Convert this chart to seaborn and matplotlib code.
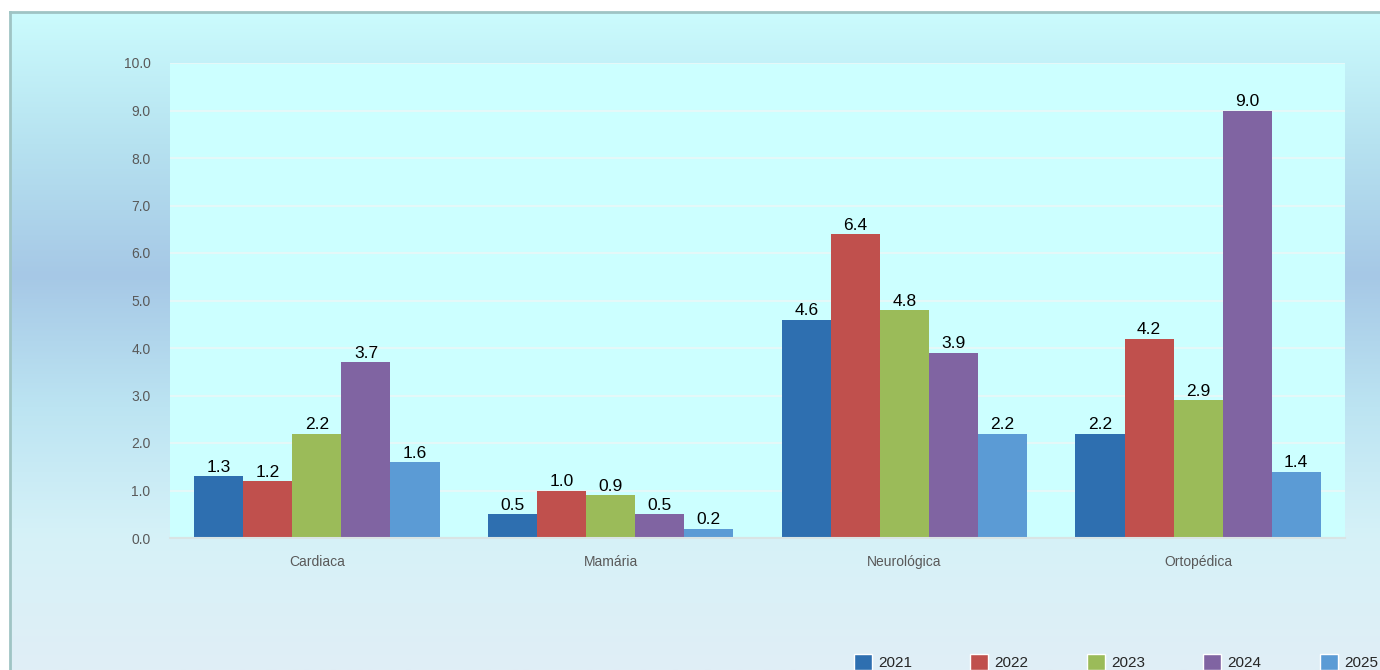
import numpy as np
import pandas as pd
import matplotlib
matplotlib.use("Agg")
import matplotlib.pyplot as plt
import seaborn as sns
from matplotlib.colors import LinearSegmentedColormap
from matplotlib.patches import Patch

# data
categories = ["Cardiaca", "Mamária", "Neurológica", "Ortopédica"]
years = ["2021", "2022", "2023", "2024", "2025"]
v2021 = [1.3, 0.5, 4.6, 2.2]
v2022 = [1.2, 1.0, 6.4, 4.2]
v2023 = [2.2, 0.9, 4.8, 2.9]
v2024 = [3.7, 0.5, 3.9, 9.0]
v2025 = [1.6, 0.2, 2.2, 1.4]
colors = ["#2E6FB0", "#C0504D", "#9BBB59", "#8064A2", "#5B9BD5"]

rows = []
for yr, vals in zip(years, [v2021, v2022, v2023, v2024, v2025]):
    for cat, v in zip(categories, vals):
        rows.append({"cat": cat, "year": yr, "val": v})
df = pd.DataFrame(rows)

sns.set_style("white")
plt.rcParams['font.family'] = ['Liberation Sans', 'DejaVu Sans']

fig = plt.figure(figsize=(13.8, 6.7), dpi=100)
fig.patch.set_facecolor("white")

# gradient background panel
bg = fig.add_axes([10 / 1380, 0, 1 - 10 / 1380, 1 - 12 / 670], zorder=-1)
cmap = LinearSegmentedColormap.from_list(
    "bg", ["#CBFBFD", "#B6E2F0", "#A6C8E6", "#BCE4F2", "#D6F2F8", "#E0EEF6"])
grad = np.linspace(0, 1, 256).reshape(-1, 1)
bg.imshow(grad, aspect="auto", cmap=cmap, extent=[0, 1, 0, 1])
bg.set_xticks([])
bg.set_yticks([])
for s in ["top", "left"]:
    bg.spines[s].set_color("#9FC4C4")
    bg.spines[s].set_linewidth(2)
for s in ["right", "bottom"]:
    bg.spines[s].set_visible(False)

ax = fig.add_axes([170 / 1380, 1 - 538 / 670, 1175 / 1380, 475 / 670])
ax.set_facecolor("#CCFFFF")
sns.barplot(data=df, x="cat", y="val", hue="year", palette=colors,
            width=0.835, ax=ax, legend=False, saturation=1,
            edgecolor="none", linewidth=0)

for cont in ax.containers:
    ax.bar_label(cont, fmt="%.1f", fontsize=12.5, color="black", padding=1)

ax.set_ylim(0, 10)
ax.set_yticks(np.arange(0, 10.5, 1))
ax.set_yticklabels([f"{t:.1f}" for t in np.arange(0, 10.5, 1)], color="#595959", fontsize=10)
ax.tick_params(axis="y", length=0, pad=14)
ax.tick_params(axis="x", length=0, pad=12, labelsize=10, labelcolor="#595959")
ax.set_xlabel("")
ax.set_ylabel("")
ax.grid(axis="y", color="#E4F8F8", linewidth=1.5)
ax.set_axisbelow(True)
for s in ["top", "left", "right"]:
    ax.spines[s].set_visible(False)
ax.spines["bottom"].set_color("#D9E4E4")
ax.spines["bottom"].set_linewidth(1.5)

handles = [Patch(facecolor=c, label=y) for c, y in zip(colors, years)]
fig.legend(handles=handles, loc="lower left", bbox_to_anchor=(846 / 1380, -0.012),
           ncol=5, frameon=False, fontsize=11, handlelength=1.2, handleheight=1.2,
           handletextpad=0.4, columnspacing=3.8, borderpad=0)

fig.savefig("out.png", dpi=100)
